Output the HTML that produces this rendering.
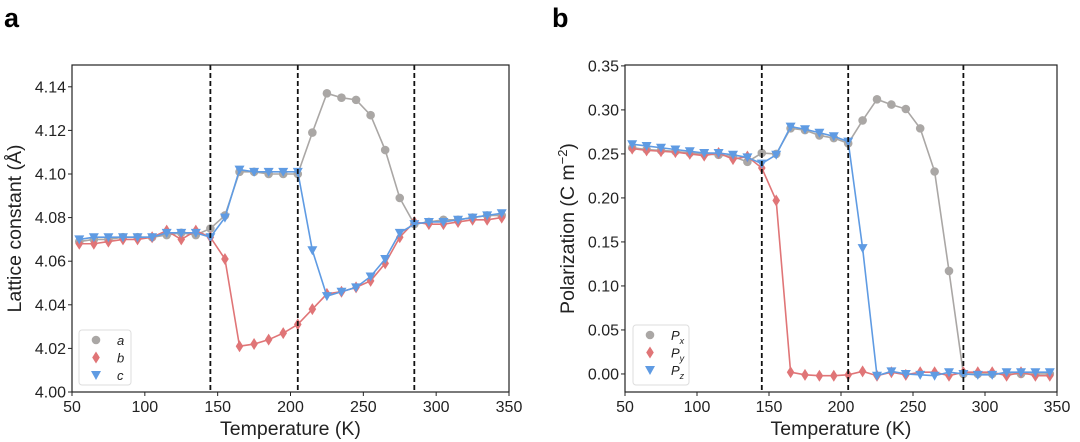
<!DOCTYPE html>
<html><head><meta charset="utf-8">
<style>
html,body{margin:0;padding:0;background:#fff;}
svg{display:block;font-family:"Liberation Sans",sans-serif;}
</style></head>
<body>
<svg id="fig" width="1080" height="442" viewBox="0 0 1080 442">
<text x="4" y="27" font-size="27" font-weight="bold">a</text>
<text x="552" y="27" font-size="27" font-weight="bold">b</text>
</svg>
<script>
const temps=[55,65,75,85,95,105,115,125,135,145,155,165,175,185,195,205,215,225,235,245,255,265,275,285,295,305,315,325,335,345];
const latA=[4.069,4.070,4.070,4.071,4.071,4.071,4.072,4.073,4.072,4.075,4.081,4.101,4.101,4.100,4.100,4.100,4.119,4.137,4.135,4.134,4.127,4.111,4.089,4.077,4.078,4.079,4.079,4.080,4.081,4.081];
const latB=[4.068,4.068,4.069,4.070,4.070,4.071,4.074,4.070,4.074,4.071,4.061,4.021,4.022,4.024,4.027,4.031,4.038,4.045,4.046,4.048,4.051,4.059,4.071,4.078,4.077,4.077,4.078,4.079,4.079,4.080];
const latC=[4.070,4.071,4.071,4.071,4.071,4.071,4.073,4.073,4.073,4.071,4.080,4.102,4.101,4.101,4.101,4.101,4.065,4.044,4.046,4.048,4.053,4.061,4.073,4.077,4.078,4.078,4.079,4.080,4.081,4.082];
const polX=[0.257,0.255,0.254,0.253,0.251,0.250,0.249,0.247,0.241,0.251,0.250,0.279,0.277,0.271,0.268,0.262,0.288,0.312,0.306,0.301,0.279,0.230,0.117,0.000,0.000,0.000,0.000,0.000,0.000,0.000];
const polY=[0.256,0.254,0.253,0.252,0.250,0.248,0.251,0.244,0.247,0.234,0.197,0.002,-0.001,-0.002,-0.002,-0.001,0.003,-0.002,0.002,-0.001,0.002,0.002,-0.002,0.002,0.002,0.002,-0.002,0.002,-0.002,-0.002];
const polZ=[0.261,0.259,0.257,0.255,0.253,0.251,0.251,0.249,0.246,0.239,0.249,0.281,0.278,0.274,0.270,0.264,0.143,-0.002,0.003,0.000,-0.001,-0.002,0.002,0.000,-0.001,-0.001,0.002,0.002,0.002,0.002];
const transitions=[145,205,285];
const xTicks=[50,100,150,200,250,300,350];
const yTicksA=[4.00,4.02,4.04,4.06,4.08,4.10,4.12,4.14];
const yTicksB=[0.00,0.05,0.10,0.15,0.20,0.25,0.30,0.35];

const NS="http://www.w3.org/2000/svg";
const svg=document.getElementById('fig');
function el(tag,attrs,parent){const e=document.createElementNS(NS,tag);for(const k in attrs)e.setAttribute(k,attrs[k]);(parent||svg).appendChild(e);return e;}
const GRAY="#aaa7a5",RED="#e07577",BLUE="#5f9be3";

function marker(g,type,x,y,color){
  let m;
  if(type==='o') m=el('circle',{cx:x,cy:y,r:4.3,fill:color},g);
  else if(type==='d') m=el('polygon',{points:`${x},${y-6} ${x+3.8},${y} ${x},${y+6} ${x-3.8},${y}`,fill:color},g);
  else m=el('polygon',{points:`${x-5},${y-4} ${x+5},${y-4} ${x},${y+5}`,fill:color},g);
  return m;
}

function panel(id,L,R,T,B,ymin,ymax,yTicks,dec,series,ylabel,legendLabels,legendBox){
  const sx=v=>L+(v-50)/(300)*(R-L);
  const sy=v=>B-(v-ymin)/(ymax-ymin)*(B-T);
  const g=el('g',{});
  
  
  series.forEach((s,si)=>{
    const sg=el('g',{},g);
    
    
    el('polyline',{points:s.data.map((v,i)=>sx(temps[i])+','+sy(v)).join(' '),fill:'none',stroke:s.color,'stroke-width':1.6},sg);
    s.data.forEach((v,i)=>{const m=marker(sg,s.m,sx(temps[i]),sy(v),s.color);
      
      });
  });
  transitions.forEach(t=>{const l=el('line',{x1:sx(t),x2:sx(t),y1:T,y2:B,stroke:'#111','stroke-width':1.8,'stroke-dasharray':'5,3'},g);
    
    });
  const fr=el('rect',{x:L,y:T,width:R-L,height:B-T,fill:'none',stroke:'#222','stroke-width':1.2},g);
  
  
  xTicks.forEach(t=>{const x=sx(t);el('line',{x1:x,x2:x,y1:B,y2:B+4,stroke:'#222'},g);
    const tx=el('text',{x:x,y:B+20,'font-size':16,'text-anchor':'middle',fill:'#222'},g);tx.textContent=t;
    
    });
  yTicks.forEach(t=>{const y=sy(t);el('line',{x1:L-4,x2:L,y1:y,y2:y,stroke:'#222'},g);
    const tx=el('text',{x:L-6,y:y+5.5,'font-size':16,'text-anchor':'end',fill:'#222'},g);tx.textContent=t.toFixed(dec);
    
    });
  const xt=el('text',{x:(L+R)/2,y:B+43,'font-size':19.5,'text-anchor':'middle',fill:'#222'},g);xt.textContent='Temperature (K)';
  
  
  const yt=el('text',{x:0,y:0,'font-size':19.5,'text-anchor':'middle',fill:'#222',transform:`translate(${ylabel.x},${(T+B)/2}) rotate(-90)`},g);
  yt.innerHTML=ylabel.html;
  
  
  const lg=el('g',{},g);
  
  
  el('rect',{x:legendBox[0],y:legendBox[1],width:legendBox[2],height:legendBox[3],rx:3,fill:'#fff',stroke:'#ddd'},lg);
  series.forEach((s,i)=>{const y=legendBox[1]+10+i*17.5;
    marker(lg,s.m,legendBox[0]+17,y,s.color);
    const tx=el('text',{x:legendBox[0]+38,y:y+5,'font-size':13,'font-style':'italic',fill:'#222'},lg);tx.innerHTML=legendLabels[i];
    
    });
}

panel('lattice',72,509,65,392,4.00,4.15,yTicksA,2,
  [{name:'a',data:latA,color:GRAY,m:'o'},{name:'b',data:latB,color:RED,m:'d'},{name:'c',data:latC,color:BLUE,m:'v'}],
  {x:21,html:'Lattice constant (Å)'},['a','b','c'],[79,330,52,55]);
panel('polarization',625,1057,65,392,-0.0205,0.351,yTicksB,2,
  [{name:'px',data:polX,color:GRAY,m:'o'},{name:'py',data:polY,color:RED,m:'d'},{name:'pz',data:polZ,color:BLUE,m:'v'}],
  {x:574,html:'Polarization (C m<tspan dy="-7" font-size="13">−2</tspan><tspan dy="7">)</tspan>'},
  ['P<tspan dy="4" font-size="9">x</tspan>','P<tspan dy="4" font-size="9">y</tspan>','P<tspan dy="4" font-size="9">z</tspan>'],[633,325,56,60]);
</script>
</body></html>
